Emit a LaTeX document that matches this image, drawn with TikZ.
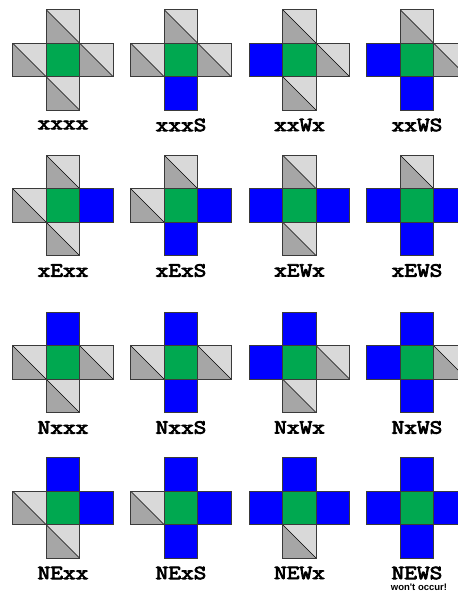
\documentclass[tikz,border=0pt]{standalone}
\usepackage{fontspec}
\newfontfamily\lblfont[FakeBold=4,FakeStretch=1.23]{Latin Modern Mono}
\newfontfamily\notefont{Liberation Sans}
\definecolor{cgreen}{HTML}{00A850}
\definecolor{cblue}{HTML}{0000FF}
\definecolor{clight}{HTML}{D9D9D9}
\definecolor{cdark}{HTML}{A6A6A6}
\definecolor{cedge}{HTML}{3A3A3A}
\def\sq{33.5}
\tikzset{
  edge/.style={draw=cedge, line width=0.7pt},
  diag/.style={draw=black, line width=0.4pt},
  bluesq/.style={fill=cblue, draw=cedge, line width=0.7pt},
  greensq/.style={fill=cgreen, draw=cedge, line width=0.7pt},
  lbl/.style={font=\lblfont\fontsize{20}{20}\selectfont, inner sep=0pt},
  note/.style={font=\notefont\fontsize{9.5}{10}\selectfont\bfseries, inner sep=0pt}
}
\newcommand\armsq[3]{%
  \ifnum#3=1
    \draw[bluesq] (#1,#2) rectangle ++(\sq,\sq);
  \else
    \fill[clight] (#1,#2) -- ++(\sq,0) -- ++(0,\sq) -- cycle;
    \fill[cdark] (#1,#2) -- ++(0,\sq) -- ++(\sq,0) -- cycle;
    \draw[diag] (#1,#2) -- ++(\sq,\sq);
    \draw[edge] (#1,#2) rectangle ++(\sq,\sq);
  \fi}
\newcommand\cell[7]{%
  \begin{scope}[shift={(#1,#2)}]
    \armsq{-16.75}{-50.25}{#3}
    \armsq{16.75}{-16.75}{#4}
    \armsq{-50.25}{-16.75}{#5}
    \armsq{-16.75}{16.75}{#6}
    \draw[greensq] (-16.75,-16.75) rectangle (16.75,16.75);
    \node[lbl] (lab#7) at (0,65) {#7};
  \end{scope}}
\begin{document}
\begin{tikzpicture}[x=1pt,y=-1pt]
\clip (0,0) rectangle (458,595);
\fill[white] (0,0) rectangle (458,595);
% row 1
\cell{63}{60}{0}{0}{0}{0}{xxxx}
\cell{181}{60}{0}{0}{0}{1}{xxxS}
\cell{299.5}{60}{0}{0}{1}{0}{xxWx}
\cell{417}{60}{0}{0}{1}{1}{xxWS}
% row 2
\cell{63}{205.5}{0}{1}{0}{0}{xExx}
\cell{181}{205.5}{0}{1}{0}{1}{xExS}
\cell{299.5}{205.5}{0}{1}{1}{0}{xEWx}
\cell{417}{205.5}{0}{1}{1}{1}{xEWS}
% row 3
\cell{63}{362.5}{1}{0}{0}{0}{Nxxx}
\cell{181}{362.5}{1}{0}{0}{1}{NxxS}
\cell{299.5}{362.5}{1}{0}{1}{0}{NxWx}
\cell{417}{362.5}{1}{0}{1}{1}{NxWS}
% row 4
\cell{63}{508}{1}{1}{0}{0}{NExx}
\cell{181}{508}{1}{1}{0}{1}{NExS}
\cell{299.5}{508}{1}{1}{1}{0}{NEWx}
\cell{417}{508}{1}{1}{1}{1}{NEWS}
\node[note] (warn) at (419,587) {won't occur!};
\end{tikzpicture}
\end{document}
